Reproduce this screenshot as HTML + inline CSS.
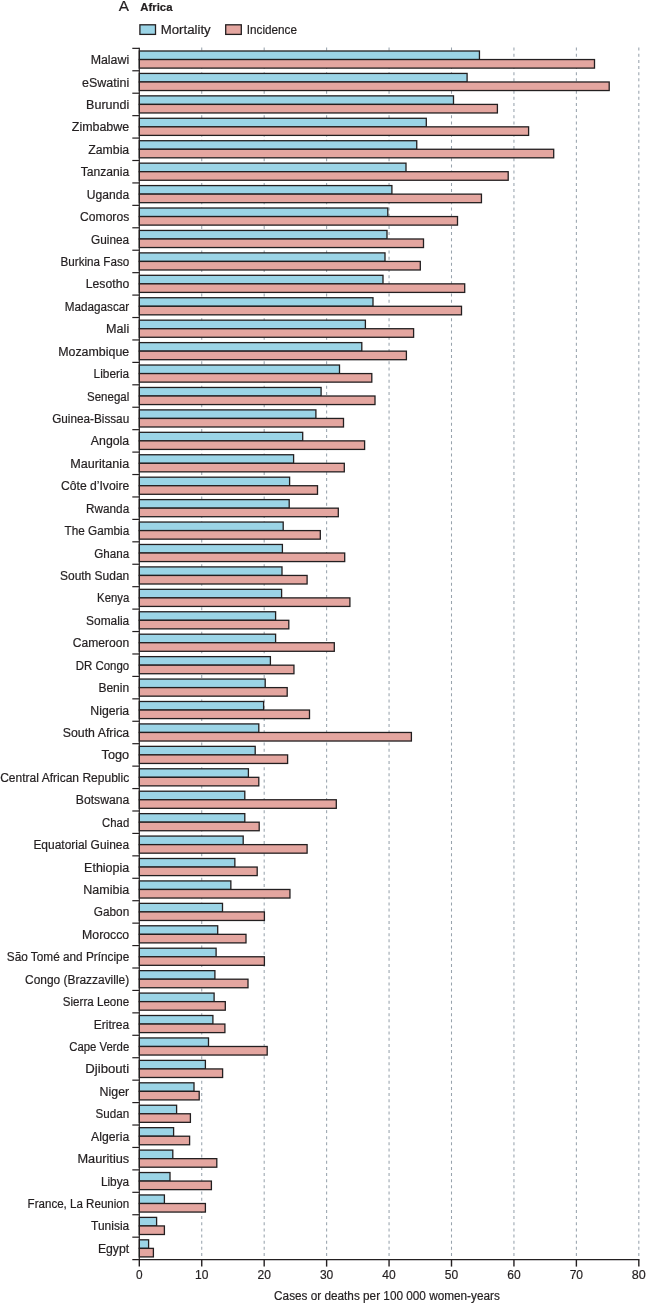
<!DOCTYPE html>
<html lang="en"><head><meta charset="utf-8"><title>Africa: cervical cancer incidence and mortality</title>
<style>
html,body{margin:0;padding:0;background:#fff;}
body{width:646px;height:1304px;overflow:hidden;}
svg{display:block;}
text{font-family:"Liberation Sans",sans-serif;fill:#231f20;stroke:#231f20;stroke-width:0.2px;}
.lab{font-size:12px;text-anchor:end;}
.lab2{font-size:12px;}
.tick2{font-size:13.2px;}
.tick{font-size:12px;text-anchor:middle;}
</style></head><body>
<svg width="646" height="1304" viewBox="0 0 646 1304">
<rect width="646" height="1304" fill="#fff"/>

<g stroke="#98a3ad" stroke-width="1.05" stroke-dasharray="3 3.15" fill="none">
<line x1="201.74" y1="47.6" x2="201.74" y2="1259.5"/>
<line x1="264.18" y1="47.6" x2="264.18" y2="1259.5"/>
<line x1="326.62" y1="47.6" x2="326.62" y2="1259.5"/>
<line x1="389.06" y1="47.6" x2="389.06" y2="1259.5"/>
<line x1="451.50" y1="47.6" x2="451.50" y2="1259.5"/>
<line x1="513.94" y1="47.6" x2="513.94" y2="1259.5"/>
<line x1="576.38" y1="47.6" x2="576.38" y2="1259.5"/>
<line x1="638.82" y1="47.6" x2="638.82" y2="1259.5"/>
</g>
<g stroke="#231f20" stroke-width="1.3">
<rect x="139.30" y="51.00" width="340.15" height="8.55" fill="#9bd4e6"/>
<rect x="139.30" y="59.55" width="455.20" height="8.55" fill="#e4a6a0"/>
<rect x="139.30" y="73.43" width="327.80" height="8.55" fill="#9bd4e6"/>
<rect x="139.30" y="81.98" width="469.90" height="8.55" fill="#e4a6a0"/>
<rect x="139.30" y="95.86" width="314.20" height="8.55" fill="#9bd4e6"/>
<rect x="139.30" y="104.41" width="358.10" height="8.55" fill="#e4a6a0"/>
<rect x="139.30" y="118.29" width="287.00" height="8.55" fill="#9bd4e6"/>
<rect x="139.30" y="126.84" width="389.30" height="8.55" fill="#e4a6a0"/>
<rect x="139.30" y="140.72" width="277.45" height="8.55" fill="#9bd4e6"/>
<rect x="139.30" y="149.27" width="414.40" height="8.55" fill="#e4a6a0"/>
<rect x="139.30" y="163.15" width="266.70" height="8.55" fill="#9bd4e6"/>
<rect x="139.30" y="171.70" width="368.90" height="8.55" fill="#e4a6a0"/>
<rect x="139.30" y="185.58" width="252.60" height="8.55" fill="#9bd4e6"/>
<rect x="139.30" y="194.13" width="342.15" height="8.55" fill="#e4a6a0"/>
<rect x="139.30" y="208.01" width="248.50" height="8.55" fill="#9bd4e6"/>
<rect x="139.30" y="216.56" width="318.20" height="8.55" fill="#e4a6a0"/>
<rect x="139.30" y="230.44" width="247.70" height="8.55" fill="#9bd4e6"/>
<rect x="139.30" y="238.99" width="284.20" height="8.55" fill="#e4a6a0"/>
<rect x="139.30" y="252.88" width="245.70" height="8.55" fill="#9bd4e6"/>
<rect x="139.30" y="261.43" width="281.00" height="8.55" fill="#e4a6a0"/>
<rect x="139.30" y="275.31" width="243.70" height="8.55" fill="#9bd4e6"/>
<rect x="139.30" y="283.86" width="325.40" height="8.55" fill="#e4a6a0"/>
<rect x="139.30" y="297.74" width="233.70" height="8.55" fill="#9bd4e6"/>
<rect x="139.30" y="306.29" width="322.20" height="8.55" fill="#e4a6a0"/>
<rect x="139.30" y="320.17" width="226.10" height="8.55" fill="#9bd4e6"/>
<rect x="139.30" y="328.72" width="274.30" height="8.55" fill="#e4a6a0"/>
<rect x="139.30" y="342.60" width="222.50" height="8.55" fill="#9bd4e6"/>
<rect x="139.30" y="351.15" width="267.10" height="8.55" fill="#e4a6a0"/>
<rect x="139.30" y="365.03" width="200.20" height="8.55" fill="#9bd4e6"/>
<rect x="139.30" y="373.58" width="232.50" height="8.55" fill="#e4a6a0"/>
<rect x="139.30" y="387.46" width="181.80" height="8.55" fill="#9bd4e6"/>
<rect x="139.30" y="396.01" width="235.70" height="8.55" fill="#e4a6a0"/>
<rect x="139.30" y="409.89" width="176.60" height="8.55" fill="#9bd4e6"/>
<rect x="139.30" y="418.44" width="204.20" height="8.55" fill="#e4a6a0"/>
<rect x="139.30" y="432.32" width="163.40" height="8.55" fill="#9bd4e6"/>
<rect x="139.30" y="440.87" width="225.30" height="8.55" fill="#e4a6a0"/>
<rect x="139.30" y="454.75" width="154.30" height="8.55" fill="#9bd4e6"/>
<rect x="139.30" y="463.30" width="205.00" height="8.55" fill="#e4a6a0"/>
<rect x="139.30" y="477.18" width="150.30" height="8.55" fill="#9bd4e6"/>
<rect x="139.30" y="485.73" width="178.20" height="8.55" fill="#e4a6a0"/>
<rect x="139.30" y="499.61" width="149.90" height="8.55" fill="#9bd4e6"/>
<rect x="139.30" y="508.16" width="199.00" height="8.55" fill="#e4a6a0"/>
<rect x="139.30" y="522.04" width="143.90" height="8.55" fill="#9bd4e6"/>
<rect x="139.30" y="530.59" width="181.00" height="8.55" fill="#e4a6a0"/>
<rect x="139.30" y="544.47" width="143.10" height="8.55" fill="#9bd4e6"/>
<rect x="139.30" y="553.02" width="205.40" height="8.55" fill="#e4a6a0"/>
<rect x="139.30" y="566.90" width="142.70" height="8.55" fill="#9bd4e6"/>
<rect x="139.30" y="575.45" width="167.80" height="8.55" fill="#e4a6a0"/>
<rect x="139.30" y="589.33" width="142.30" height="8.55" fill="#9bd4e6"/>
<rect x="139.30" y="597.88" width="210.60" height="8.55" fill="#e4a6a0"/>
<rect x="139.30" y="611.76" width="136.30" height="8.55" fill="#9bd4e6"/>
<rect x="139.30" y="620.31" width="149.50" height="8.55" fill="#e4a6a0"/>
<rect x="139.30" y="634.19" width="136.30" height="8.55" fill="#9bd4e6"/>
<rect x="139.30" y="642.74" width="195.00" height="8.55" fill="#e4a6a0"/>
<rect x="139.30" y="656.62" width="131.10" height="8.55" fill="#9bd4e6"/>
<rect x="139.30" y="665.18" width="154.65" height="8.55" fill="#e4a6a0"/>
<rect x="139.30" y="679.06" width="125.90" height="8.55" fill="#9bd4e6"/>
<rect x="139.30" y="687.61" width="147.90" height="8.55" fill="#e4a6a0"/>
<rect x="139.30" y="701.49" width="124.30" height="8.55" fill="#9bd4e6"/>
<rect x="139.30" y="710.04" width="170.20" height="8.55" fill="#e4a6a0"/>
<rect x="139.30" y="723.92" width="119.50" height="8.55" fill="#9bd4e6"/>
<rect x="139.30" y="732.47" width="272.10" height="8.55" fill="#e4a6a0"/>
<rect x="139.30" y="746.35" width="115.90" height="8.55" fill="#9bd4e6"/>
<rect x="139.30" y="754.90" width="148.30" height="8.55" fill="#e4a6a0"/>
<rect x="139.30" y="768.78" width="109.10" height="8.55" fill="#9bd4e6"/>
<rect x="139.30" y="777.33" width="119.50" height="8.55" fill="#e4a6a0"/>
<rect x="139.30" y="791.21" width="105.50" height="8.55" fill="#9bd4e6"/>
<rect x="139.30" y="799.76" width="197.00" height="8.55" fill="#e4a6a0"/>
<rect x="139.30" y="813.64" width="105.50" height="8.55" fill="#9bd4e6"/>
<rect x="139.30" y="822.19" width="119.90" height="8.55" fill="#e4a6a0"/>
<rect x="139.30" y="836.07" width="103.90" height="8.55" fill="#9bd4e6"/>
<rect x="139.30" y="844.62" width="167.80" height="8.55" fill="#e4a6a0"/>
<rect x="139.30" y="858.50" width="95.55" height="8.55" fill="#9bd4e6"/>
<rect x="139.30" y="867.05" width="117.90" height="8.55" fill="#e4a6a0"/>
<rect x="139.30" y="880.93" width="91.55" height="8.55" fill="#9bd4e6"/>
<rect x="139.30" y="889.48" width="150.65" height="8.55" fill="#e4a6a0"/>
<rect x="139.30" y="903.36" width="83.20" height="8.55" fill="#9bd4e6"/>
<rect x="139.30" y="911.91" width="125.10" height="8.55" fill="#e4a6a0"/>
<rect x="139.30" y="925.79" width="78.40" height="8.55" fill="#9bd4e6"/>
<rect x="139.30" y="934.34" width="106.70" height="8.55" fill="#e4a6a0"/>
<rect x="139.30" y="948.22" width="76.80" height="8.55" fill="#9bd4e6"/>
<rect x="139.30" y="956.77" width="125.10" height="8.55" fill="#e4a6a0"/>
<rect x="139.30" y="970.65" width="75.60" height="8.55" fill="#9bd4e6"/>
<rect x="139.30" y="979.20" width="108.70" height="8.55" fill="#e4a6a0"/>
<rect x="139.30" y="993.08" width="74.80" height="8.55" fill="#9bd4e6"/>
<rect x="139.30" y="1001.63" width="86.00" height="8.55" fill="#e4a6a0"/>
<rect x="139.30" y="1015.51" width="73.60" height="8.55" fill="#9bd4e6"/>
<rect x="139.30" y="1024.06" width="85.60" height="8.55" fill="#e4a6a0"/>
<rect x="139.30" y="1037.94" width="69.20" height="8.55" fill="#9bd4e6"/>
<rect x="139.30" y="1046.49" width="127.90" height="8.55" fill="#e4a6a0"/>
<rect x="139.30" y="1060.38" width="66.10" height="8.55" fill="#9bd4e6"/>
<rect x="139.30" y="1068.93" width="83.30" height="8.55" fill="#e4a6a0"/>
<rect x="139.30" y="1082.81" width="54.70" height="8.55" fill="#9bd4e6"/>
<rect x="139.30" y="1091.36" width="59.90" height="8.55" fill="#e4a6a0"/>
<rect x="139.30" y="1105.24" width="37.30" height="8.55" fill="#9bd4e6"/>
<rect x="139.30" y="1113.79" width="51.10" height="8.55" fill="#e4a6a0"/>
<rect x="139.30" y="1127.67" width="34.30" height="8.55" fill="#9bd4e6"/>
<rect x="139.30" y="1136.22" width="50.30" height="8.55" fill="#e4a6a0"/>
<rect x="139.30" y="1150.10" width="33.50" height="8.55" fill="#9bd4e6"/>
<rect x="139.30" y="1158.65" width="77.50" height="8.55" fill="#e4a6a0"/>
<rect x="139.30" y="1172.53" width="30.70" height="8.55" fill="#9bd4e6"/>
<rect x="139.30" y="1181.08" width="72.10" height="8.55" fill="#e4a6a0"/>
<rect x="139.30" y="1194.96" width="25.10" height="8.55" fill="#9bd4e6"/>
<rect x="139.30" y="1203.51" width="66.10" height="8.55" fill="#e4a6a0"/>
<rect x="139.30" y="1217.39" width="17.30" height="8.55" fill="#9bd4e6"/>
<rect x="139.30" y="1225.94" width="25.10" height="8.55" fill="#e4a6a0"/>
<rect x="139.30" y="1239.82" width="9.30" height="8.55" fill="#9bd4e6"/>
<rect x="139.30" y="1248.37" width="14.10" height="8.55" fill="#e4a6a0"/>
</g>
<g stroke="#231f20" stroke-width="1.2" fill="none">
<line x1="139.30" y1="47.75" x2="139.30" y2="1259.6"/>
<line x1="132.3" y1="1259.6" x2="639.4" y2="1259.6"/>
<line x1="132.3" y1="48.35" x2="139.30" y2="48.35"/>
<line x1="132.3" y1="70.78" x2="139.30" y2="70.78"/>
<line x1="132.3" y1="93.21" x2="139.30" y2="93.21"/>
<line x1="132.3" y1="115.64" x2="139.30" y2="115.64"/>
<line x1="132.3" y1="138.07" x2="139.30" y2="138.07"/>
<line x1="132.3" y1="160.50" x2="139.30" y2="160.50"/>
<line x1="132.3" y1="182.93" x2="139.30" y2="182.93"/>
<line x1="132.3" y1="205.36" x2="139.30" y2="205.36"/>
<line x1="132.3" y1="227.79" x2="139.30" y2="227.79"/>
<line x1="132.3" y1="250.22" x2="139.30" y2="250.22"/>
<line x1="132.3" y1="272.66" x2="139.30" y2="272.66"/>
<line x1="132.3" y1="295.09" x2="139.30" y2="295.09"/>
<line x1="132.3" y1="317.52" x2="139.30" y2="317.52"/>
<line x1="132.3" y1="339.95" x2="139.30" y2="339.95"/>
<line x1="132.3" y1="362.38" x2="139.30" y2="362.38"/>
<line x1="132.3" y1="384.81" x2="139.30" y2="384.81"/>
<line x1="132.3" y1="407.24" x2="139.30" y2="407.24"/>
<line x1="132.3" y1="429.67" x2="139.30" y2="429.67"/>
<line x1="132.3" y1="452.10" x2="139.30" y2="452.10"/>
<line x1="132.3" y1="474.53" x2="139.30" y2="474.53"/>
<line x1="132.3" y1="496.96" x2="139.30" y2="496.96"/>
<line x1="132.3" y1="519.39" x2="139.30" y2="519.39"/>
<line x1="132.3" y1="541.82" x2="139.30" y2="541.82"/>
<line x1="132.3" y1="564.25" x2="139.30" y2="564.25"/>
<line x1="132.3" y1="586.68" x2="139.30" y2="586.68"/>
<line x1="132.3" y1="609.11" x2="139.30" y2="609.11"/>
<line x1="132.3" y1="631.54" x2="139.30" y2="631.54"/>
<line x1="132.3" y1="653.98" x2="139.30" y2="653.98"/>
<line x1="132.3" y1="676.41" x2="139.30" y2="676.41"/>
<line x1="132.3" y1="698.84" x2="139.30" y2="698.84"/>
<line x1="132.3" y1="721.27" x2="139.30" y2="721.27"/>
<line x1="132.3" y1="743.70" x2="139.30" y2="743.70"/>
<line x1="132.3" y1="766.13" x2="139.30" y2="766.13"/>
<line x1="132.3" y1="788.56" x2="139.30" y2="788.56"/>
<line x1="132.3" y1="810.99" x2="139.30" y2="810.99"/>
<line x1="132.3" y1="833.42" x2="139.30" y2="833.42"/>
<line x1="132.3" y1="855.85" x2="139.30" y2="855.85"/>
<line x1="132.3" y1="878.28" x2="139.30" y2="878.28"/>
<line x1="132.3" y1="900.71" x2="139.30" y2="900.71"/>
<line x1="132.3" y1="923.14" x2="139.30" y2="923.14"/>
<line x1="132.3" y1="945.57" x2="139.30" y2="945.57"/>
<line x1="132.3" y1="968.00" x2="139.30" y2="968.00"/>
<line x1="132.3" y1="990.43" x2="139.30" y2="990.43"/>
<line x1="132.3" y1="1012.86" x2="139.30" y2="1012.86"/>
<line x1="132.3" y1="1035.29" x2="139.30" y2="1035.29"/>
<line x1="132.3" y1="1057.73" x2="139.30" y2="1057.73"/>
<line x1="132.3" y1="1080.16" x2="139.30" y2="1080.16"/>
<line x1="132.3" y1="1102.59" x2="139.30" y2="1102.59"/>
<line x1="132.3" y1="1125.02" x2="139.30" y2="1125.02"/>
<line x1="132.3" y1="1147.45" x2="139.30" y2="1147.45"/>
<line x1="132.3" y1="1169.88" x2="139.30" y2="1169.88"/>
<line x1="132.3" y1="1192.31" x2="139.30" y2="1192.31"/>
<line x1="132.3" y1="1214.74" x2="139.30" y2="1214.74"/>
<line x1="132.3" y1="1237.17" x2="139.30" y2="1237.17"/>
<line x1="139.30" y1="1259.6" x2="139.30" y2="1266.6" stroke-width="1.4"/>
<line x1="201.74" y1="1259.6" x2="201.74" y2="1266.6" stroke-width="1.4"/>
<line x1="264.18" y1="1259.6" x2="264.18" y2="1266.6" stroke-width="1.4"/>
<line x1="326.62" y1="1259.6" x2="326.62" y2="1266.6" stroke-width="1.4"/>
<line x1="389.06" y1="1259.6" x2="389.06" y2="1266.6" stroke-width="1.4"/>
<line x1="451.50" y1="1259.6" x2="451.50" y2="1266.6" stroke-width="1.4"/>
<line x1="513.94" y1="1259.6" x2="513.94" y2="1266.6" stroke-width="1.4"/>
<line x1="576.38" y1="1259.6" x2="576.38" y2="1266.6" stroke-width="1.4"/>
<line x1="638.82" y1="1259.6" x2="638.82" y2="1266.6" stroke-width="1.4"/>
</g>
<text class="lab2" x="90.70" y="64.07" textLength="38.5" lengthAdjust="spacingAndGlyphs">Malawi</text>
<text class="lab2" x="82.10" y="86.50" textLength="47.1" lengthAdjust="spacingAndGlyphs">eSwatini</text>
<text class="lab2" x="86.10" y="108.93" textLength="43.1" lengthAdjust="spacingAndGlyphs">Burundi</text>
<text class="lab2" x="71.80" y="131.36" textLength="57.4" lengthAdjust="spacingAndGlyphs">Zimbabwe</text>
<text class="lab2" x="88.30" y="153.79" textLength="40.9" lengthAdjust="spacingAndGlyphs">Zambia</text>
<text class="lab2" x="80.80" y="176.22" textLength="48.4" lengthAdjust="spacingAndGlyphs">Tanzania</text>
<text class="lab2" x="86.80" y="198.65" textLength="42.4" lengthAdjust="spacingAndGlyphs">Uganda</text>
<text class="lab2" x="80.10" y="221.08" textLength="49.1" lengthAdjust="spacingAndGlyphs">Comoros</text>
<text class="lab2" x="91.10" y="243.51" textLength="38.1" lengthAdjust="spacingAndGlyphs">Guinea</text>
<text class="lab2" x="60.50" y="265.94" textLength="68.7" lengthAdjust="spacingAndGlyphs">Burkina Faso</text>
<text class="lab2" x="85.80" y="288.37" textLength="43.4" lengthAdjust="spacingAndGlyphs">Lesotho</text>
<text class="lab2" x="64.80" y="310.80" textLength="64.4" lengthAdjust="spacingAndGlyphs">Madagascar</text>
<text class="lab2" x="106.10" y="333.23" textLength="23.1" lengthAdjust="spacingAndGlyphs">Mali</text>
<text class="lab2" x="58.20" y="355.66" textLength="71.0" lengthAdjust="spacingAndGlyphs">Mozambique</text>
<text class="lab2" x="93.60" y="378.09" textLength="35.6" lengthAdjust="spacingAndGlyphs">Liberia</text>
<text class="lab2" x="87.10" y="400.52" textLength="42.1" lengthAdjust="spacingAndGlyphs">Senegal</text>
<text class="lab2" x="52.20" y="422.95" textLength="77.0" lengthAdjust="spacingAndGlyphs">Guinea-Bissau</text>
<text class="lab2" x="90.80" y="445.38" textLength="38.4" lengthAdjust="spacingAndGlyphs">Angola</text>
<text class="lab2" x="70.30" y="467.82" textLength="58.9" lengthAdjust="spacingAndGlyphs">Mauritania</text>
<text class="lab2" x="61.00" y="490.25" textLength="68.2" lengthAdjust="spacingAndGlyphs">Côte d’Ivoire</text>
<text class="lab2" x="86.10" y="512.68" textLength="43.1" lengthAdjust="spacingAndGlyphs">Rwanda</text>
<text class="lab2" x="64.50" y="535.11" textLength="64.7" lengthAdjust="spacingAndGlyphs">The Gambia</text>
<text class="lab2" x="94.30" y="557.54" textLength="34.9" lengthAdjust="spacingAndGlyphs">Ghana</text>
<text class="lab2" x="60.00" y="579.97" textLength="69.2" lengthAdjust="spacingAndGlyphs">South Sudan</text>
<text class="lab2" x="97.10" y="602.40" textLength="32.1" lengthAdjust="spacingAndGlyphs">Kenya</text>
<text class="lab2" x="86.10" y="624.83" textLength="43.1" lengthAdjust="spacingAndGlyphs">Somalia</text>
<text class="lab2" x="72.80" y="647.26" textLength="56.4" lengthAdjust="spacingAndGlyphs">Cameroon</text>
<text class="lab2" x="75.80" y="669.69" textLength="53.4" lengthAdjust="spacingAndGlyphs">DR Congo</text>
<text class="lab2" x="98.40" y="692.12" textLength="30.8" lengthAdjust="spacingAndGlyphs">Benin</text>
<text class="lab2" x="90.30" y="714.55" textLength="38.9" lengthAdjust="spacingAndGlyphs">Nigeria</text>
<text class="lab2" x="62.80" y="736.98" textLength="66.4" lengthAdjust="spacingAndGlyphs">South Africa</text>
<text class="lab2" x="101.60" y="759.41" textLength="27.6" lengthAdjust="spacingAndGlyphs">Togo</text>
<text class="lab2" x="0.20" y="781.84" textLength="129.0" lengthAdjust="spacingAndGlyphs">Central African Republic</text>
<text class="lab2" x="75.80" y="804.27" textLength="53.4" lengthAdjust="spacingAndGlyphs">Botswana</text>
<text class="lab2" x="102.10" y="826.70" textLength="27.1" lengthAdjust="spacingAndGlyphs">Chad</text>
<text class="lab2" x="33.40" y="849.13" textLength="95.8" lengthAdjust="spacingAndGlyphs">Equatorial Guinea</text>
<text class="lab2" x="84.10" y="871.57" textLength="45.1" lengthAdjust="spacingAndGlyphs">Ethiopia</text>
<text class="lab2" x="83.30" y="894.00" textLength="45.9" lengthAdjust="spacingAndGlyphs">Namibia</text>
<text class="lab2" x="93.80" y="916.43" textLength="35.4" lengthAdjust="spacingAndGlyphs">Gabon</text>
<text class="lab2" x="82.10" y="938.86" textLength="47.1" lengthAdjust="spacingAndGlyphs">Morocco</text>
<text class="lab2" x="6.80" y="961.29" textLength="122.4" lengthAdjust="spacingAndGlyphs">São Tomé and Príncipe</text>
<text class="lab2" x="25.10" y="983.72" textLength="104.1" lengthAdjust="spacingAndGlyphs">Congo (Brazzaville)</text>
<text class="lab2" x="62.80" y="1006.15" textLength="66.4" lengthAdjust="spacingAndGlyphs">Sierra Leone</text>
<text class="lab2" x="93.80" y="1028.58" textLength="35.4" lengthAdjust="spacingAndGlyphs">Eritrea</text>
<text class="lab2" x="69.30" y="1051.01" textLength="59.9" lengthAdjust="spacingAndGlyphs">Cape Verde</text>
<text class="lab2" x="85.30" y="1073.44" textLength="43.9" lengthAdjust="spacingAndGlyphs">Djibouti</text>
<text class="lab2" x="99.60" y="1095.87" textLength="29.6" lengthAdjust="spacingAndGlyphs">Niger</text>
<text class="lab2" x="95.60" y="1118.30" textLength="33.6" lengthAdjust="spacingAndGlyphs">Sudan</text>
<text class="lab2" x="91.10" y="1140.73" textLength="38.1" lengthAdjust="spacingAndGlyphs">Algeria</text>
<text class="lab2" x="77.50" y="1163.16" textLength="51.7" lengthAdjust="spacingAndGlyphs">Mauritius</text>
<text class="lab2" x="100.90" y="1185.59" textLength="28.3" lengthAdjust="spacingAndGlyphs">Libya</text>
<text class="lab2" x="27.60" y="1208.02" textLength="101.6" lengthAdjust="spacingAndGlyphs">France, La Reunion</text>
<text class="lab2" x="91.10" y="1230.45" textLength="38.1" lengthAdjust="spacingAndGlyphs">Tunisia</text>
<text class="lab2" x="97.90" y="1252.88" textLength="31.3" lengthAdjust="spacingAndGlyphs">Egypt</text>
<text class="tick2" x="136.00" y="1279.1" textLength="6.6" lengthAdjust="spacingAndGlyphs">0</text>
<text class="tick2" x="195.04" y="1279.1" textLength="13.4" lengthAdjust="spacingAndGlyphs">10</text>
<text class="tick2" x="257.48" y="1279.1" textLength="13.4" lengthAdjust="spacingAndGlyphs">20</text>
<text class="tick2" x="319.92" y="1279.1" textLength="13.4" lengthAdjust="spacingAndGlyphs">30</text>
<text class="tick2" x="382.36" y="1279.1" textLength="13.4" lengthAdjust="spacingAndGlyphs">40</text>
<text class="tick2" x="444.80" y="1279.1" textLength="13.4" lengthAdjust="spacingAndGlyphs">50</text>
<text class="tick2" x="507.24" y="1279.1" textLength="13.4" lengthAdjust="spacingAndGlyphs">60</text>
<text class="tick2" x="569.68" y="1279.1" textLength="13.4" lengthAdjust="spacingAndGlyphs">70</text>
<text class="tick2" x="631.82" y="1279.1" textLength="14.0" lengthAdjust="spacingAndGlyphs">80</text>
<text x="274.1" y="1300.2" font-size="12" textLength="225.7" lengthAdjust="spacingAndGlyphs">Cases or deaths per 100 000 women-years</text>
<text x="118.7" y="11.4" font-size="15.3" stroke-width="0.3">A</text>
<text x="140.3" y="11.4" font-size="11.8" font-weight="bold" textLength="32.2" lengthAdjust="spacingAndGlyphs">Africa</text>
<rect x="139.9" y="24.8" width="15.6" height="9.6" fill="#9bd4e6" stroke="#231f20" stroke-width="1.3"/>
<text x="160.7" y="34" font-size="12" textLength="50" lengthAdjust="spacingAndGlyphs">Mortality</text>
<rect x="225.7" y="24.8" width="15.6" height="9.6" fill="#e4a6a0" stroke="#231f20" stroke-width="1.3"/>
<text x="246.8" y="34.1" font-size="12" textLength="50.2" lengthAdjust="spacingAndGlyphs">Incidence</text>
</svg></body></html>
